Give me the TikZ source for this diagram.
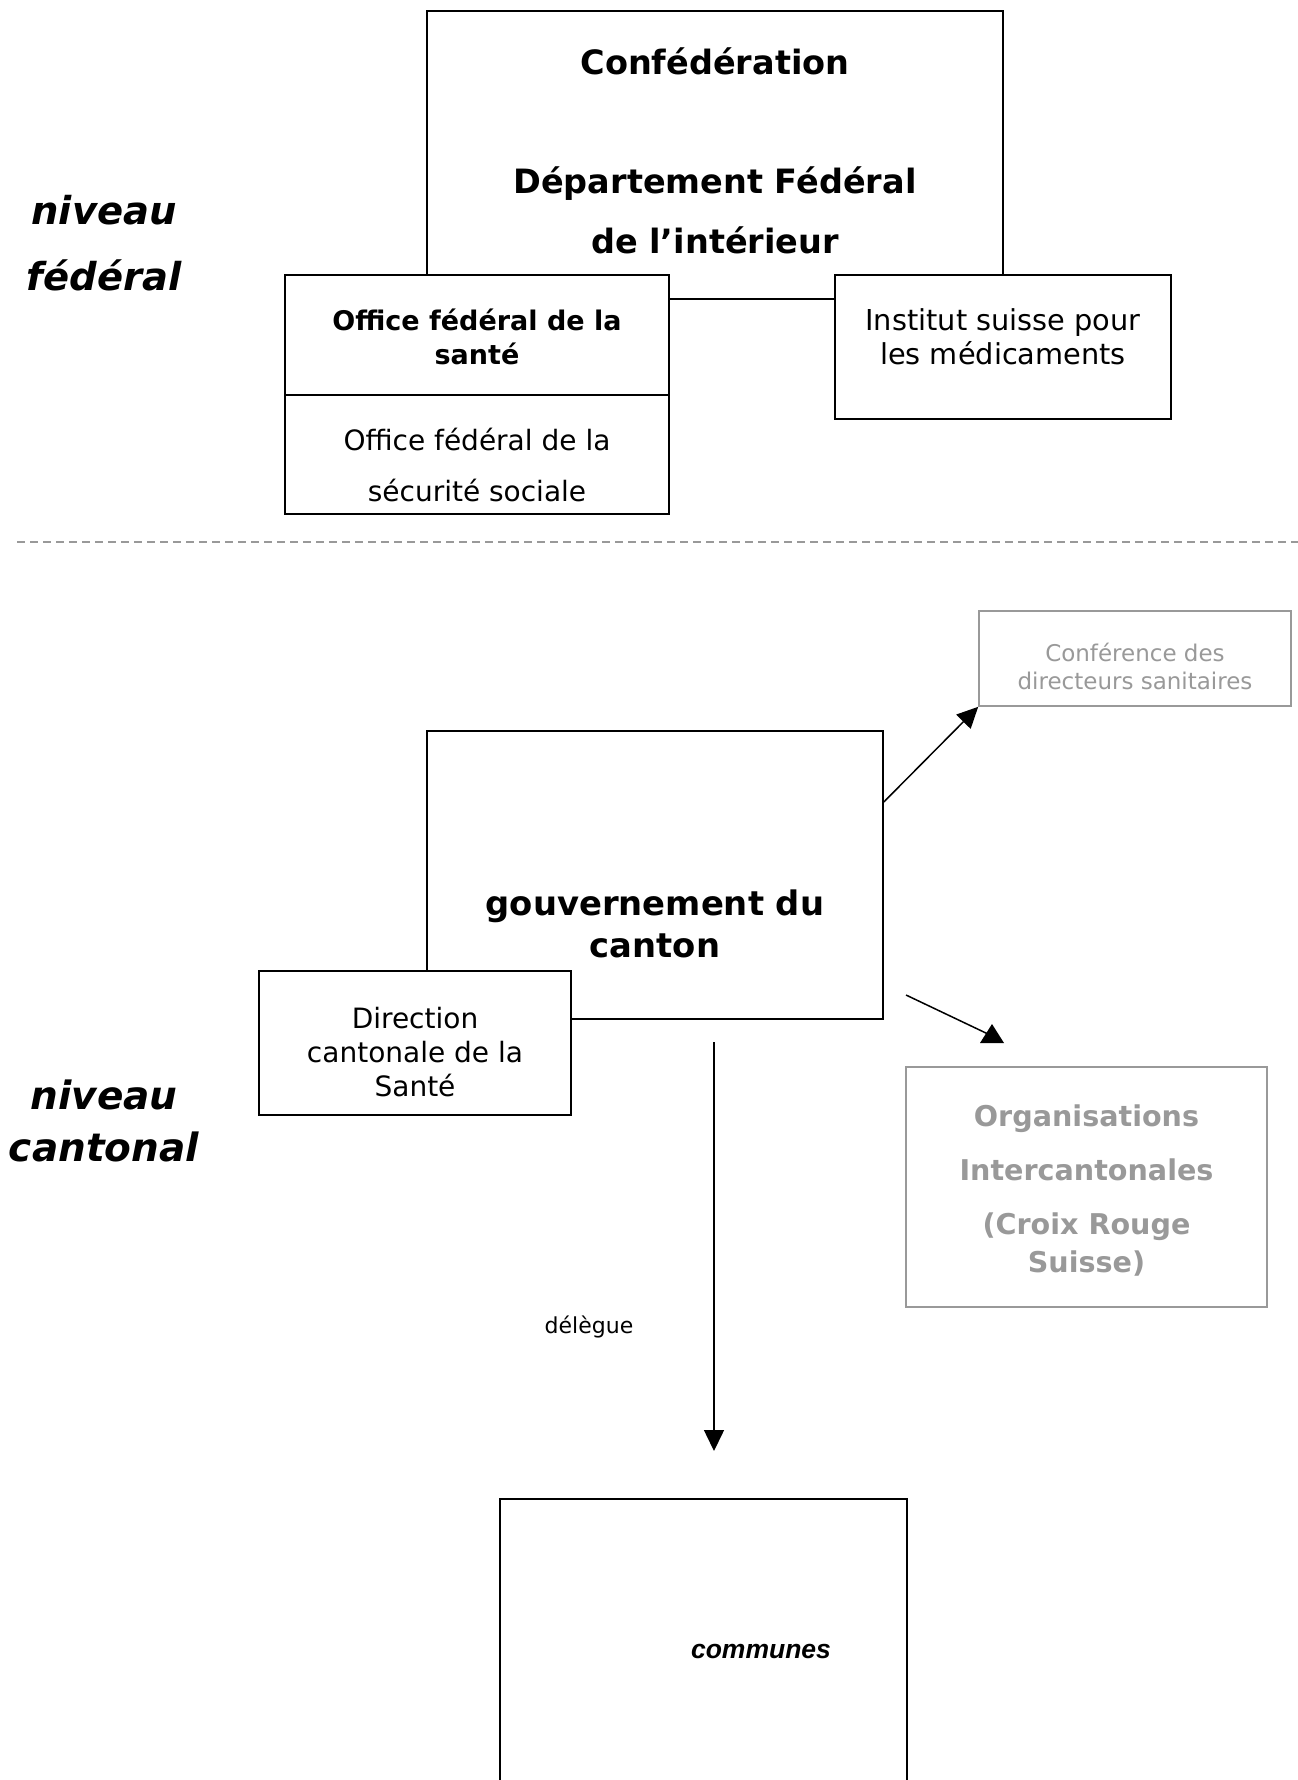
\documentclass[tikz,border=0pt]{standalone}
\usepackage{fontspec}
\setmainfont{DejaVu Sans}[BoldFont=DejaVu Sans Bold, ItalicFont=DejaVu Sans Oblique, BoldItalicFont=DejaVu Sans Bold Oblique]
\newfontfamily\arialf{Liberation Sans}
\usetikzlibrary{arrows.meta}
\definecolor{lightgr}{HTML}{999999}
\tikzset{
  box/.style={draw=black, line width=1.6pt, fill=white, inner sep=0pt},
  graybox/.style={draw=lightgr, line width=1.6pt, fill=white, inner sep=0pt},
  txt/.style={align=center, anchor=base, inner sep=0pt},
  conn/.style={line width=1.5pt, -{Triangle[length=21pt, width=20pt]}},
  plainconn/.style={line width=1.5pt},
}
\begin{document}
\begin{tikzpicture}[x=1pt, y=-1pt]
\useasboundingbox (0,0) rectangle (1298,1780);
\clip (0,0) rectangle (1298,1780);

% ---- federal level ----
\node[box, minimum width=576pt, minimum height=288pt] (conf) at (715,155) {};
\node[box, minimum width=384pt, minimum height=120pt] (ofsp) at (477,335) {};
\node[box, minimum width=384pt, minimum height=119pt] (ofas) at (477,454.5) {};
\node[box, minimum width=336pt, minimum height=144pt] (swissmedic) at (1003,347) {};

% (anchor=base is the baseline of the last line)
\node[txt, font=\fontsize{33.5}{59.5}\selectfont\bfseries] (conftxt) at (715,253)
  {Confédération\\[59.5pt]Département Fédéral\\de l’intérieur};
\node[txt, font=\fontsize{27}{34}\selectfont\bfseries] (ofsptxt) at (477,364)
  {Office fédéral de la\\santé};
\node[txt, font=\fontsize{28}{51}\selectfont] (ofastxt) at (477,501)
  {Office fédéral de la\\sécurité sociale};
\node[txt, font=\fontsize{28.8}{34}\selectfont] (swisstxt) at (1003,364)
  {Institut suisse pour\\les médicaments};

\node[txt, font=\fontsize{38.5}{66}\selectfont\bfseries\itshape] (fedlabel) at (104,290)
  {niveau\\fédéral};

% separator
\coordinate (sepL) at (17,542);
\coordinate (sepR) at (1298,542);
\draw[lightgr, line width=1.3pt, dash pattern=on 8pt off 5pt] (sepL) -- (sepR);

% ---- cantonal level ----
\node[graybox, minimum width=312pt, minimum height=95pt] (cds) at (1135,658.5) {};
\node[txt, text=lightgr, font=\fontsize{23}{28}\selectfont] (cdstxt) at (1135,689)
  {Conférence des\\directeurs sanitaires};

\node[box, minimum width=456pt, minimum height=288pt] (gouv) at (655,875) {};
\node[txt, font=\fontsize{33.8}{42}\selectfont\bfseries] (gouvtxt) at (655,957)
  {gouvernement du\\canton};

\node[box, minimum width=312pt, minimum height=144pt] (dir) at (415,1043) {};
\node[txt, font=\fontsize{28}{34}\selectfont] (dirtxt) at (415,1096)
  {Direction\\cantonale de la\\Santé};

\node[graybox, minimum width=361pt, minimum height=240pt] (orgs) at (1086.5,1187) {};
\node[txt, text=lightgr, font=\fontsize{28.6}{37.5}\selectfont\bfseries] (orgstxt) at (1086.5,1272)
  {Organisations\\[17pt]Intercantonales\\[16.5pt](Croix Rouge\\Suisse)};

\node[txt, font=\fontsize{39}{52}\selectfont\bfseries\itshape] (cantlabel) at (104,1161)
  {niveau\\cantonal};

\node[box, minimum width=407pt, minimum height=320pt] (communes) at (703.5,1659) {};
\node[txt, font=\arialf\fontsize{26.5}{30}\selectfont\bfseries\itshape] (comtxt) at (761,1658) {communes};

% connectors
\coordinate (a1s) at (gouv.east |- 0,802);
\draw[conn] (a1s) -- (cds.south west);

\coordinate (a2s) at (906,995);
\coordinate (a2e) at (988,1034);
\draw[plainconn] (a2s) -- (a2e);
\fill (980,1043) -- (992,1024) -- (1004,1043) -- cycle;

\coordinate (a3s) at (714,1042);
\coordinate (a3e) at (714,1451);
\draw[conn] (a3s) -- (a3e);
\node[txt, font=\fontsize{22}{26}\selectfont] (delegue) at (589,1333) {délègue};
\end{tikzpicture}
\end{document}
